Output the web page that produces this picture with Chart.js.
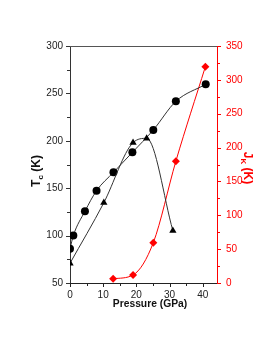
<!DOCTYPE html>
<html><head><meta charset="utf-8">
<script src="https://cdn.jsdelivr.net/npm/chart.js@4/dist/chart.umd.min.js"></script>
<style>html,body{margin:0;padding:0;background:#fff}#wrap{width:268px;height:346px}</style>
</head><body><div id="wrap"><canvas id="c" width="268" height="346"></canvas></div>
<script>
// ---- data ----
const pressureCircles = [0, 1.0, 4.5, 8.0, 13.1, 18.8, 25.1, 31.9, 40.9];
const tcCircles       = [86, 100, 125.6, 147.4, 166.7, 187.8, 211.4, 241.6, 259.6];

const pressureTriangles = [0, 10.2, 19.0, 23.1, 31.0];
const tcTriangles       = [70.8, 134.7, 198, 202.6, 105.2];

const pressureDiamonds = [13.0, 19.0, 25.1, 31.9, 40.8];
const jkDiamonds       = [6.3, 11.8, 59.5, 179.8, 319.5];

const xTickValues  = [0, 10, 20, 30, 40];
const tcTickValues = [50, 100, 150, 200, 250, 300];
const jkTickValues = [0, 50, 100, 150, 200, 250, 300, 350];

const xLabel = 'Pressure (GPa)';
const tcLabel = ['T', 'c', ' (K)'];
const jkLabel = ['J', 'K', ' (K)'];

// ---- helpers ----
const FONT = '"Liberation Sans", Arial, sans-serif';
const RED = '#ff0000';
const pts = (xs, ys) => xs.map((x, i) => ({x, y: ys[i]}));
const fixedTicks = vals => s => { s.ticks = vals.map(v => ({value: v})); };

function drawTitle(ctx, cx, cy, angle, parts, color, big, small) {
  ctx.save();
  ctx.translate(cx, cy);
  ctx.rotate(angle);
  ctx.fillStyle = color;
  ctx.textBaseline = 'alphabetic';
  ctx.textAlign = 'left';
  const fonts = [`bold ${big}px ${FONT}`, `bold ${small}px ${FONT}`, `bold ${big}px ${FONT}`];
  let w = 0;
  const ws = parts.map((p, i) => { ctx.font = fonts[i]; const m = ctx.measureText(p).width; w += m; return m; });
  let x = -w / 2;
  const base = big * 0.36;
  parts.forEach((p, i) => {
    ctx.font = fonts[i];
    ctx.fillText(p, x, i === 1 ? base + small * 0.35 : base);
    x += ws[i];
  });
  ctx.restore();
}

const decor = {
  id: 'decor',
  afterDraw(chart) {
    const {ctx, chartArea: a, scales} = chart;
    ctx.save();
    // top frame line
    ctx.strokeStyle = '#555';
    ctx.lineWidth = 1;
    ctx.beginPath(); ctx.moveTo(a.left, a.top + 0.5); ctx.lineTo(a.right, a.top + 0.5); ctx.stroke();
    // tick marks
    const tick = (x1, y1, x2, y2, c) => { ctx.strokeStyle = c; ctx.beginPath(); ctx.moveTo(x1, y1); ctx.lineTo(x2, y2); ctx.stroke(); };
    for (let v = 0; v <= scales.x.max; v += 5) {
      const px = Math.round(scales.x.getPixelForValue(v)) + 0.5;
      tick(px, a.bottom, px, a.bottom + (v % 10 === 0 ? 4 : 3), '#222');
    }
    for (let v = 50; v <= 300; v += 25) {
      const py = Math.round(scales.y.getPixelForValue(v)) + 0.5;
      tick(a.left, py, a.left - (v % 50 === 0 ? 4 : 3), py, '#333');
    }
    for (let v = 0; v <= 350; v += 25) {
      const py = Math.round(scales.y1.getPixelForValue(v)) + 0.5;
      tick(a.right, py, a.right + (v % 50 === 0 ? 4 : 3), py, RED);
    }
    // axis titles
    ctx.fillStyle = '#111';
    ctx.font = `bold 10.3px ${FONT}`;
    ctx.textAlign = 'center';
    ctx.textBaseline = 'middle';
    ctx.fillText(xLabel, 150, 304);
    drawTitle(ctx, 36, 171, -Math.PI / 2, tcLabel, '#111', 12, 8);
    drawTitle(ctx, 248, 168, Math.PI / 2, jkLabel, RED, 12, 8);
    ctx.restore();
  }
};

new Chart(document.getElementById('c'), {
  type: 'line',
  data: {
    datasets: [
      {
        data: pts(pressureTriangles, tcTriangles), yAxisID: 'y',
        borderColor: '#333', borderWidth: 1, cubicInterpolationMode: 'monotone',
        pointStyle: 'triangle', pointRadius: 4.2, pointBackgroundColor: '#000', pointBorderColor: '#000', pointBorderWidth: 0
      },
      {
        data: pts(pressureCircles, tcCircles), yAxisID: 'y',
        borderColor: '#333', borderWidth: 1, cubicInterpolationMode: 'monotone',
        pointStyle: 'circle', pointRadius: 4, pointBackgroundColor: '#000', pointBorderColor: '#000', pointBorderWidth: 0
      },
      {
        data: pts(pressureDiamonds, jkDiamonds), yAxisID: 'y1',
        borderColor: RED, borderWidth: 1, cubicInterpolationMode: 'monotone',
        pointStyle: 'rectRot', pointRadius: 4, pointBackgroundColor: RED, pointBorderColor: RED, pointBorderWidth: 0
      }
    ]
  },
  options: {
    responsive: false, devicePixelRatio: 1, animation: false,
    layout: {padding: {top: 46, left: 0, right: 0, bottom: 0}},
    plugins: {legend: {display: false}, tooltip: {enabled: false}},
    scales: {
      x: {
        type: 'linear', min: 0, max: 44.3,
        afterBuildTicks: fixedTicks(xTickValues),
        afterFit: s => { s.height = 63; },
        grid: {drawOnChartArea: false, drawTicks: false},
        border: {color: '#222', width: 1},
        ticks: {color: '#222', font: {family: FONT, size: 10}, padding: 6, maxRotation: 0}
      },
      y: {
        type: 'linear', position: 'left', min: 50, max: 300,
        afterBuildTicks: fixedTicks(tcTickValues),
        afterFit: s => { s.width = 70; },
        grid: {drawOnChartArea: false, drawTicks: false},
        border: {color: '#333', width: 1},
        ticks: {color: '#222', font: {family: FONT, size: 10}, padding: 7}
      },
      y1: {
        type: 'linear', position: 'right', min: 0, max: 350,
        afterBuildTicks: fixedTicks(jkTickValues),
        afterFit: s => { s.width = 51; },
        grid: {drawOnChartArea: false, drawTicks: false},
        border: {color: RED, width: 1},
        ticks: {color: RED, font: {family: FONT, size: 10}, padding: 9}
      }
    }
  },
  plugins: [decor]
});
</script>
</body></html>
